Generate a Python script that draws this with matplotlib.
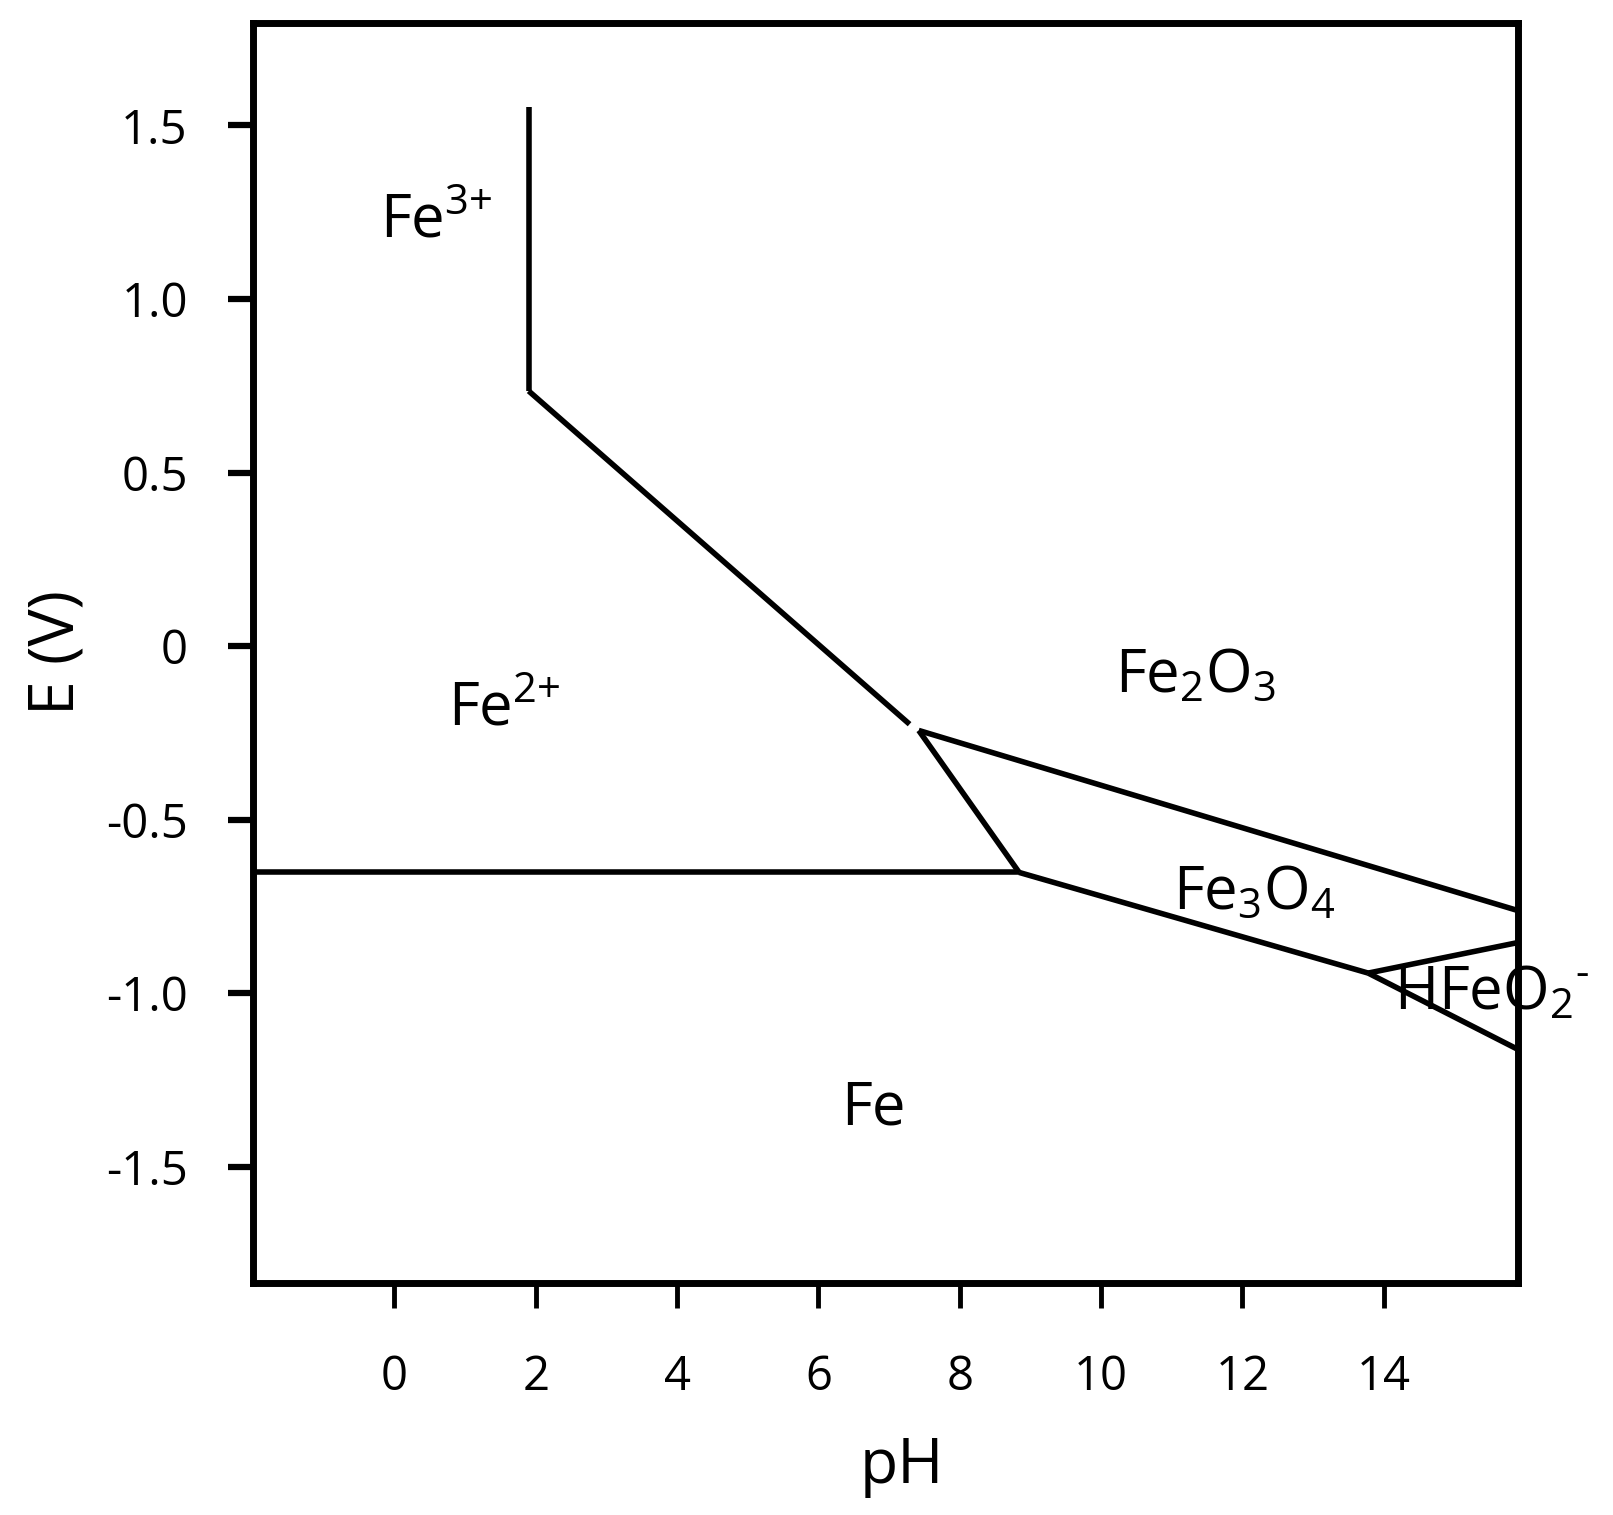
import matplotlib
matplotlib.use("Agg")
import matplotlib.pyplot as plt

plt.rcParams['font.family'] = ['Open Sans', 'DejaVu Sans']
plt.rcParams['mathtext.fontset'] = 'custom'
plt.rcParams['mathtext.rm'] = 'Open Sans'
plt.rcParams['mathtext.it'] = 'Open Sans:italic'
plt.rcParams['mathtext.bf'] = 'Open Sans:bold'
plt.rcParams['mathtext.default'] = 'regular'
plt.rcParams['axes.unicode_minus'] = False

# boundary lines of the Pourbaix diagram (pH, E)
fe3_fe2_ph = [1.90, 1.90]
fe3_fe2_e = [1.553, 0.735]
fe2_fe2o3_ph = [1.90, 7.29]
fe2_fe2o3_e = [0.735, -0.225]
fe2_fe3o4_ph = [7.42, 8.84]
fe2_fe3o4_e = [-0.243, -0.652]
fe2o3_fe3o4_ph = [7.42, 15.9]
fe2o3_fe3o4_e = [-0.243, -0.762]
fe2_fe_ph = [-2.0, 8.84]
fe2_fe_e = [-0.652, -0.652]
fe3o4_fe_ph = [8.84, 13.78]
fe3o4_fe_e = [-0.652, -0.942]
fe3o4_hfeo2_ph = [13.78, 15.9]
fe3o4_hfeo2_e = [-0.942, -0.854]
hfeo2_fe_ph = [13.78, 15.9]
hfeo2_fe_e = [-0.942, -1.162]

# region labels: text, pH (left edge), E (baseline)
region_names = [r'Fe$^{\text{3+}}$', r'Fe$^{\text{2+}}$', r'Fe$_2$O$_3$',
                r'Fe$_3$O$_4$', r'HFeO$_2{}^{\text{-}}$', 'Fe']
region_ph = [-0.20, 0.76, 10.20, 11.02, 14.15, 6.32]
region_e = [1.178, -0.230, -0.131, -0.756, -1.048, -1.378]

xticks = [0, 2, 4, 6, 8, 10, 12, 14]
xtick_labels = ['0', '2', '4', '6', '8', '10', '12', '14']
yticks = [-1.5, -1.0, -0.5, 0, 0.5, 1.0, 1.5]
ytick_labels = ['-1.5', '-1.0', '-0.5', '0', '0.5', '1.0', '1.5']

fig = plt.figure(figsize=(16.13, 15.15), dpi=100)
ax = fig.add_axes([0.1569, 0.1531, 0.7842, 0.8317])

lines = [(fe3_fe2_ph, fe3_fe2_e), (fe2_fe2o3_ph, fe2_fe2o3_e),
         (fe2_fe3o4_ph, fe2_fe3o4_e), (fe2o3_fe3o4_ph, fe2o3_fe3o4_e),
         (fe2_fe_ph, fe2_fe_e), (fe3o4_fe_ph, fe3o4_fe_e),
         (fe3o4_hfeo2_ph, fe3o4_hfeo2_e), (hfeo2_fe_ph, hfeo2_fe_e)]
for xs, ys in lines:
    ax.plot(xs, ys, color='black', lw=4, solid_capstyle='butt')

for name, x, y in zip(region_names, region_ph, region_e):
    ax.text(x, y, name, fontsize=43, ha='left', va='baseline')

ax.set_xlim(-2, 15.9)
ax.set_ylim(-1.835, 1.795)
ax.set_xticks(xticks)
ax.set_xticklabels(xtick_labels)
ax.set_yticks(yticks)
ax.set_yticklabels(ytick_labels)

for s in ax.spines.values():
    s.set_linewidth(5)
    s.set_color('black')
ax.tick_params(axis='both', direction='out', length=18, width=4.5,
               labelsize=34)
ax.tick_params(axis='x', pad=33, width=3.5)
ax.tick_params(axis='y', pad=29)

fig.text(0.559, 0.0211, 'pH', fontsize=45, ha='center', va='baseline')
fig.text(0.0453, 0.5696, 'E (V)', fontsize=45, rotation=90,
         rotation_mode='anchor', ha='center', va='baseline')

fig.savefig('out.png', dpi=100)
